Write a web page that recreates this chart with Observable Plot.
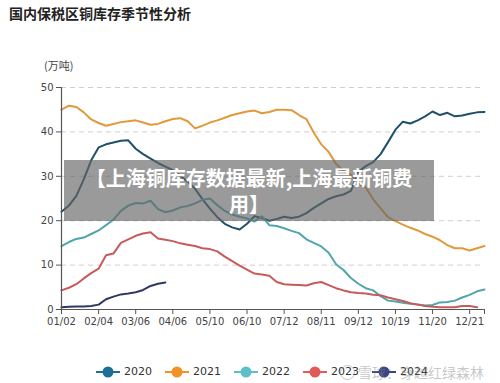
<!DOCTYPE html>
<html>
<head>
<meta charset="utf-8">
<script src="https://cdn.jsdelivr.net/npm/d3@7"></script>
<script src="https://cdn.jsdelivr.net/npm/@observablehq/plot@0.6"></script>
<style>
  html, body { margin: 0; padding: 0; background: #fff; }
  #wrap { position: relative; width: 500px; height: 383px; overflow: hidden; background: #fff; }
  #chart { position: absolute; left: 0; top: 0; }
  .title { position: absolute; left: 9px; top: 3px; font: bold 14px "Noto Sans CJK SC", sans-serif; color: #222; }
  .unit { position: absolute; left: 44px; top: 57px; font: 11px "Noto Sans CJK SC", sans-serif; color: #444; }
  .banner { position: absolute; left: 64px; top: 160px; width: 370px; height: 61px; background: rgba(100,100,100,0.65);
            color: #fff; font: bold 20px "Noto Sans CJK SC", sans-serif; text-align: center; line-height: 26px; padding-top: 5px; box-sizing: border-box; }
  .legend { position: absolute; top: 364px; left: 0; height: 16px; }
  .item { position: absolute; top: 0; height: 16px; font: 11px "DejaVu Sans", sans-serif; color: #333; white-space: nowrap; }
  .item svg { position: absolute; left: 0; top: 0; }
  .item span { position: absolute; left: 29px; top: 1px; }
  .wm { position: absolute; left: 340px; top: 362px; font: 14px "Noto Sans CJK SC", sans-serif; color: rgba(130,130,130,0.45); white-space: nowrap; }
  .wm b { display: inline-block; width: 13px; height: 13px; border: 1.5px solid rgba(130,130,130,0.45); border-radius: 50%; vertical-align: -2px; margin-right: 3px; }
</style>
</head>
<body>
<div id="wrap">
  <div id="chart"></div>
  <div class="title">国内保税区铜库存季节性分析</div>
  <div class="unit">(万吨)</div>
  <div class="banner">【上海铜库存数据最新,上海最新铜费<br>用】</div>
  <div class="legend" id="legend"></div>
  <div class="wm"><b></b>雪球：穿越红绿森林</div>
</div>
<script>
// x-axis tick labels (every 5th weekly category)
const tickLabels = ["01/02","02/04","03/06","04/06","05/10","06/10","07/12","08/11","09/12","10/19","11/20","12/21"];
const years = ["2020","2021","2022","2023","2024"];
const lineColors = ["#1e5068","#e09a3c","#4fa6ab","#c85a5a","#2c3a64"];
const legendColors = ["#1f6e96","#f0922a","#5dbfca","#e05a5a","#3a4585"];
const yTicks = [0,10,20,30,40,50];

const v2020 = [22.0,23.4,25.6,29.3,33.6,36.5,37.2,37.6,38.0,38.1,36.2,35.0,34.0,33.0,32.2,31.4,30.1,28.8,27.2,24.8,22.7,20.8,19.3,18.5,18.0,19.3,21.0,20.6,20.0,20.4,20.9,20.6,20.9,21.7,22.9,23.9,24.9,25.5,25.9,26.7,31.0,32.3,33.2,35.0,37.7,40.5,42.3,41.9,42.6,43.5,44.6,43.8,44.3,43.5,43.7,44.1,44.4,44.5];
const v2021 = [45.0,45.9,45.6,44.4,42.8,42.0,41.4,41.8,42.2,42.4,42.6,42.1,41.6,41.8,42.4,42.9,43.1,42.4,40.8,41.4,42.1,42.6,43.2,43.8,44.2,44.6,44.8,44.2,44.5,45.0,45.0,44.9,43.8,42.9,39.8,37.2,35.5,32.8,31.2,30.3,28.3,27.5,24.8,22.8,20.8,19.9,19.1,18.4,17.8,17.0,16.4,15.6,14.5,13.8,13.8,13.3,13.8,14.3];
const v2022 = [14.3,15.2,15.9,16.2,17.0,17.8,19.0,20.2,22.2,23.4,24.0,23.9,24.5,22.6,21.9,22.3,23.0,23.3,23.9,24.7,25.0,23.5,22.2,21.4,20.9,20.5,19.8,21.0,19.0,18.8,18.3,17.7,17.2,15.8,15.0,14.2,12.8,10.2,8.9,7.1,5.8,4.8,4.3,3.0,2.0,1.8,1.5,1.3,1.1,0.9,1.0,1.6,1.7,2.0,2.7,3.3,4.1,4.5];
const v2023 = [4.3,4.9,5.7,7.0,8.2,9.2,12.2,12.6,15.0,15.8,16.6,17.1,17.4,16.0,15.7,15.4,14.9,14.6,14.3,13.8,13.6,13.1,11.9,10.9,9.9,9.0,8.1,7.9,7.6,6.2,5.7,5.6,5.5,5.4,5.9,6.2,5.5,4.8,4.3,3.9,3.7,3.6,3.3,3.2,2.7,2.3,1.9,1.4,1.1,0.8,0.6,0.5,0.5,0.5,0.8,0.8,0.5];
const v2024 = [0.5,0.6,0.7,0.7,0.8,1.1,2.3,2.9,3.4,3.6,3.9,4.4,5.3,5.8,6.1];

const series = [v2020, v2021, v2022, v2023, v2024];
const rows = [];
series.forEach((vals, k) => vals.forEach((v, i) => rows.push({i, v, year: years[k]})));

const lastIndex = 57;
const xTicks = tickLabels.map((_, k) => k * 5).concat([lastIndex]);

const chart = Plot.plot({
  width: 500,
  height: 335,
  marginTop: 87,
  marginBottom: 26,
  marginLeft: 61,
  marginRight: 16,
  style: { fontFamily: "DejaVu Sans, sans-serif", fontSize: "10px", color: "#444", background: "transparent", overflow: "visible" },
  x: { domain: [0, lastIndex], label: null },
  y: { domain: [0, 50], label: null },
  color: { domain: years, range: lineColors },
  marks: [
    Plot.ruleY(yTicks.filter(d => d > 0), { stroke: "#cfcfcf", strokeDasharray: "5,4", strokeWidth: 1 }),
    Plot.line(rows, { x: "i", y: "v", z: "year", stroke: "year", strokeWidth: 2, curve: "linear" }),
    Plot.ruleX([0], { stroke: "#555", strokeWidth: 1.2 }),
    Plot.ruleY([0], { stroke: "#555", strokeWidth: 1.2 }),
    Plot.axisY({ ticks: yTicks, tickSize: 5, tickPadding: 3, stroke: "#555", label: null, fill: "#444" }),
    Plot.axisX({ ticks: xTicks, tickSize: 5, tickPadding: 3, stroke: "#555", label: null, fill: "#444",
                 tickFormat: i => (i % 5 === 0 && i / 5 < tickLabels.length) ? tickLabels[i / 5] : "" })
  ]
});
document.getElementById("chart").appendChild(chart);

// legend
const legend = document.getElementById("legend");
const legendDotX = [108, 177, 246, 315, 384];
years.forEach((y, k) => {
  const item = document.createElement("div");
  item.className = "item";
  item.style.left = (legendDotX[k] - 13) + "px";
  const c = legendColors[k];
  item.innerHTML = `<svg width="26" height="16"><line x1="1" y1="8" x2="25" y2="8" stroke="${c}" stroke-width="2"/><circle cx="13" cy="8" r="5.5" fill="${c}"/></svg><span>${y}</span>`;
  legend.appendChild(item);
});
</script>
</body>
</html>
